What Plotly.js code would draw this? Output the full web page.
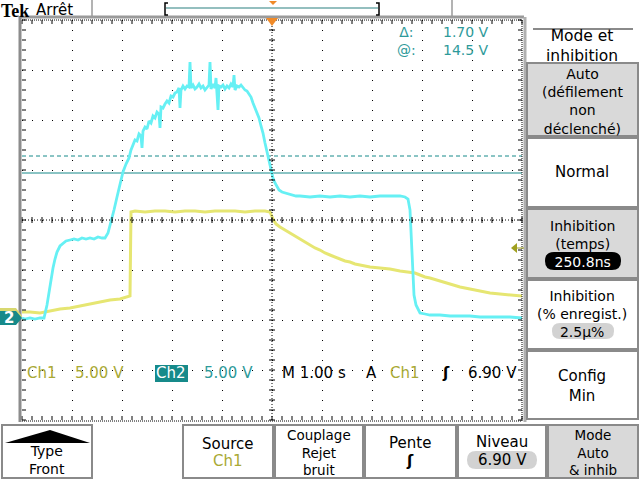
<!DOCTYPE html>
<html><head><meta charset="utf-8">
<script src="https://cdn.plot.ly/plotly-3.0.1.min.js"></script>
<style>html,body{margin:0;padding:0;background:#fff}#chart{width:640px;height:480px}</style>
</head><body><div id="chart"></div>
<script>
// ---------- data (time in s, voltage in V) ----------
const ch1Time = [-5.00,-4.84,-4.64,-4.54,-4.44,-4.34,-4.24,-4.04,-3.84,-3.64,-3.44,-3.24,-3.04,-2.88,-2.84,
  -2.82,-2.74,-2.54,-2.34,-2.14,-1.94,-1.74,-1.54,-1.34,-1.14,-0.94,-0.74,-0.54,-0.34,-0.14,-0.04,
  0.02,0.08,0.16,0.26,0.36,0.46,0.56,0.66,0.76,0.86,0.96,1.06,1.16,1.26,1.36,1.46,1.56,1.66,1.76,1.86,1.96,
  2.16,2.36,2.56,2.76,2.86,2.96,3.06,3.16,3.36,3.56,3.76,3.96,4.16,4.36,4.56,4.76,5.00];
const ch1Volts = [0.5,0.5,0.4,0.5,0.6,0.7,0.8,0.9,1.1,1.3,1.5,1.7,1.8,2.0,2.1,
  10.5,10.6,10.5,10.6,10.6,10.5,10.6,10.6,10.5,10.6,10.6,10.6,10.5,10.6,10.6,10.5,
  9.8,9.3,9.0,8.7,8.4,8.1,7.8,7.5,7.2,6.9,6.7,6.4,6.2,6.0,5.8,5.6,5.5,5.3,5.2,5.1,5.0,
  4.9,4.8,4.6,4.5,4.4,4.2,4.0,3.9,3.6,3.3,3.0,2.8,2.6,2.4,2.3,2.2,2.1];

const ch2Time = [-5.00,-4.94,-4.84,-4.74,-4.64,-4.56,-4.50,-4.46,-4.42,-4.38,-4.34,-4.30,-4.24,-4.18,-4.12,
  -4.04,-3.96,-3.88,-3.80,-3.72,-3.64,-3.56,-3.48,-3.40,-3.34,-3.28,-3.22,-3.16,-3.10,-3.04,-2.98,-2.92,
  -2.86,-2.82,-2.78,-2.74,-2.70,-2.66,-2.62,-2.60,-2.58,-2.54,-2.50,-2.46,-2.42,-2.38,-2.34,-2.30,-2.26,
  -2.24,-2.22,-2.18,-2.14,-2.10,-2.06,-2.02,-1.98,-1.94,-1.90,-1.86,-1.84,-1.82,-1.78,-1.74,-1.70,-1.66,
  -1.64,-1.62,-1.58,-1.54,-1.50,-1.46,-1.42,-1.38,-1.34,-1.30,-1.26,-1.24,-1.22,-1.18,-1.14,-1.12,-1.10,
  -1.08,-1.06,-1.02,-0.98,-0.94,-0.90,-0.86,-0.82,-0.78,-0.76,-0.74,-0.70,-0.66,-0.62,-0.58,-0.54,-0.50,
  -0.46,-0.42,-0.38,-0.34,-0.30,-0.26,-0.22,-0.18,-0.14,-0.10,-0.06,-0.02,0.02,0.06,0.10,0.14,0.20,0.26,
  0.32,0.40,0.48,0.56,0.76,0.96,1.16,1.36,1.56,1.76,1.96,2.16,2.36,2.56,2.66,2.72,2.76,2.78,2.80,2.82,
  2.84,2.88,2.92,2.96,3.06,3.16,3.36,3.56,3.76,3.96,4.16,4.36,4.56,4.76,5.00];
const ch2Volts = [0.0,-0.1,0.0,-0.1,0.0,0.0,1.3,2.6,3.8,5.0,5.9,6.6,7.2,7.5,7.7,
  7.8,7.9,7.8,8.0,7.9,8.0,7.9,8.1,8.0,8.0,8.5,9.6,10.8,12.1,13.5,14.6,15.4,
  16.0,16.8,17.4,17.8,17.7,18.4,18.2,17.0,18.7,19.1,18.9,19.7,19.5,20.2,20.0,20.6,20.4,
  19.0,21.1,21.0,21.4,21.7,21.5,22.2,22.1,22.5,22.6,23.0,21.0,22.8,23.2,22.9,23.2,23.1,
  25.6,23.0,23.3,22.9,23.1,23.4,23.0,23.2,22.8,23.1,23.3,25.6,22.9,23.4,23.0,24.0,22.7,
  20.8,23.2,23.1,23.3,22.9,23.2,23.0,23.4,23.1,24.3,22.8,23.2,23.1,23.3,23.0,22.8,22.7,
  22.4,22.1,21.5,21.0,20.5,20.0,19.2,18.5,17.5,16.6,15.5,14.6,14.0,13.5,13.1,12.8,12.6,12.5,
  12.4,12.3,12.2,12.2,12.1,12.2,12.1,12.2,12.1,12.2,12.1,12.2,12.2,12.2,12.1,11.9,10.8,8.8,6.3,3.8,
  2.3,1.3,0.8,0.5,0.4,0.3,0.3,0.2,0.2,0.2,0.1,0.1,0.1,0.1,0.0];

// ---------- scope settings ----------
const ch1Scale = 5.00, ch2Scale = 5.00, timeScale = 1.00;   // V/div, s/div
const ch1GroundDiv = -1.94, ch2GroundDiv = -1.96;          // ground position (div from centre)
const trigLevel = 6.90;
const cursorAt = 14.5, cursorDelta = 1.70;
const holdoffTime = '250.8ns', holdoffPct = '2.5µ%';

// ---------- colours ----------
const cYellowTrace = '#e6e672', cCyanTrace = '#66f0f4';
const cOlive = '#a9a935', cTeal = '#2e9a9a', cTealDark = '#168a8a';
const cGreyBox = '#d9d9d9', cBorder = '#8a8a8a';
const FONT = 'DejaVu Sans';

// ---------- pixel -> paper helpers (plot area 22..522 x 20..420) ----------
const X = px => (px - 22) / 500;
const Y = py => (420 - py) / 400;

const shapes = [];
const annotations = [];

function rect(x0, y0, x1, y1, fill, line, lw) {
  shapes.push({type:'rect', xref:'paper', yref:'paper', x0:X(x0), x1:X(x1), y0:Y(y0), y1:Y(y1),
    fillcolor: fill, line:{color: line || cBorder, width: lw === undefined ? 2 : lw}, layer:'above'});
}
function seg(x0, y0, x1, y1, color, width, dash) {
  shapes.push({type:'line', xref:'paper', yref:'paper', x0:X(x0), x1:X(x1), y0:Y(y0), y1:Y(y1),
    line:{color: color, width: width, dash: dash || 'solid'}, layer:'above'});
}
function pathShape(path, fill, line, lw) {
  shapes.push({type:'path', xref:'paper', yref:'paper', path: path, fillcolor: fill,
    line:{color: line || fill, width: lw || 0}, layer:'above'});
}
function pill(x0, y0, x1, y1, fill) {
  const r = (y1 - y0) / 2, m = (y0 + y1) / 2;
  const p = `M${X(x0+r)},${Y(y0)} L${X(x1-r)},${Y(y0)} Q${X(x1)},${Y(y0)} ${X(x1)},${Y(m)} Q${X(x1)},${Y(y1)} ${X(x1-r)},${Y(y1)} L${X(x0+r)},${Y(y1)} Q${X(x0)},${Y(y1)} ${X(x0)},${Y(m)} Q${X(x0)},${Y(y0)} ${X(x0+r)},${Y(y0)} Z`;
  pathShape(p, fill, fill, 0);
}
function txt(x, y, text, opt) {
  opt = opt || {};
  if (Array.isArray(text)) text = text.join('<br>');
  annotations.push(Object.assign({xref:'paper', yref:'paper', x:X(x), y:Y(y), text:text, showarrow:false,
    xanchor: opt.xanchor || 'center', yanchor: opt.yanchor || 'middle', align: opt.align || 'center',
    borderpad: 0,
    font:{family: opt.family || FONT, size: opt.size || 15, color: opt.color || '#000', weight: opt.weight || 'normal'}},
    opt.bg ? {bgcolor: opt.bg} : {}));
}

// ---------- graticule ----------
seg(272, 20, 272, 420, '#000', 1, '1px,2px');
seg(22, 220, 522, 220, '#000', 1, '1px,2px');
let tk = '';
const addTick = (x0,y0,x1,y1) => { tk += `M${X(x0)},${Y(y0)}L${X(x1)},${Y(y1)}`; };
for (let px = 22; px <= 522; px += 10) {
  addTick(px, 217, px, 223); addTick(px, 20, px, 24); addTick(px, 416, px, 420);
}
for (let py = 20; py <= 420; py += 10) {
  addTick(269, py, 275, py); addTick(22, py, 26, py); addTick(518, py, 522, py);
}
shapes.push({type:'path', xref:'paper', yref:'paper', path: tk, line:{color:'#000', width:1}, layer:'above'});
seg(22, 421, 522, 421, '#000', 1, '1px,1px');
seg(522, 20, 522, 421, '#000', 1, '1px,1px');
seg(22, 20, 522, 20, '#000', 1, '1px,1px');
seg(20, 17, 524, 17, '#9a9a9a', 3);
seg(20, 16, 20, 422, '#8c8c8c', 3);
seg(525, 17, 525, 422, '#b0b0b0', 3);

// cursors (ch2)
shapes.push({type:'line', xref:'paper', yref:'y2', x0:0, x1:1, y0:cursorAt, y1:cursorAt,
  line:{color:cTealDark, width:1}, layer:'between'});
shapes.push({type:'line', xref:'paper', yref:'y2', x0:0, x1:1, y0:cursorAt+cursorDelta, y1:cursorAt+cursorDelta,
  line:{color:cTealDark, width:1, dash:'4px,3px'}, layer:'between'});

// ground markers
shapes.push({type:'path', xref:'paper', yref:'y', xsizemode:'pixel', ysizemode:'pixel', xanchor:0, yanchor:0,
  path:'M-22,9 L-6,9 L0,1 L-6,-7 L-22,-7 Z', fillcolor:'#d8d870', line:{width:0}, layer:'above'});
shapes.push({type:'path', xref:'paper', yref:'y2', xsizemode:'pixel', ysizemode:'pixel', xanchor:0, yanchor:0,
  path:'M-22,7 L-6,7 L0,0 L-6,-7 L-22,-7 Z', fillcolor:cTealDark, line:{width:0}, layer:'above'});
annotations.push({xref:'paper', yref:'y2', x:X(9), y:0, text:'<b>2</b>', showarrow:false,
  xanchor:'center', yanchor:'middle', borderpad:0, font:{family:FONT, size:15, color:'#fff'}});
// trigger level marker (ch1)
shapes.push({type:'path', xref:'paper', yref:'y', xsizemode:'pixel', ysizemode:'pixel', xanchor:1, yanchor:trigLevel,
  path:'M-11,0 L-5,-5 L-5,5 Z', fillcolor:'#a0a020', line:{width:0}, layer:'above'});
shapes.push({type:'path', xref:'paper', yref:'y', xsizemode:'pixel', ysizemode:'pixel', xanchor:1, yanchor:trigLevel,
  path:'M-5,0 L2,0', line:{color:'#a0a020', width:1}, layer:'above'});
// trigger position markers (orange)
pathShape(`M${X(266)},${Y(18)} L${X(278)},${Y(18)} L${X(272)},${Y(26)} Z`, '#f08a28');
pathShape(`M${X(269)},${Y(1)} L${X(277)},${Y(1)} L${X(273)},${Y(5)} Z`, '#f08a28');

// ---------- top bar ----------
txt(15, 0, 'Tek', {family:'Liberation Serif', size:18, weight:'bold', yanchor:'top'});
txt(54, 0, 'Arrêt', {size:15, yanchor:'top'});
seg(92, 0, 92, 16, '#9a9a9a', 1.5);
seg(452, 0, 452, 16, '#9a9a9a', 1.5);
shapes.push({type:'path', xref:'paper', yref:'paper', path:`M${X(168)},${Y(3)}L${X(165)},${Y(3)}L${X(165)},${Y(15)}L${X(168)},${Y(15)}`, line:{color:'#000', width:1.5}, layer:'above'});
shapes.push({type:'path', xref:'paper', yref:'paper', path:`M${X(376)},${Y(3)}L${X(379)},${Y(3)}L${X(379)},${Y(15)}L${X(376)},${Y(15)}`, line:{color:'#000', width:1.5}, layer:'above'});
seg(166, 8, 378, 8, '#2a8080', 1.2);

// cursor readout
txt(406, 41, ['Δ:', '@:'], {color:cTeal, size:14});
txt(466, 41, [cursorDelta.toFixed(2) + ' V', cursorAt.toFixed(1) + ' V'], {color:cTeal, size:14});

// channel readout
txt(42, 373, 'Ch1', {color:cOlive});
txt(99, 373, ch1Scale.toFixed(2) + ' V', {color:cOlive});
rect(155, 365, 188, 382, cTealDark, cTealDark, 0);
txt(171, 373, 'Ch2', {color:'#fff'});
txt(228, 373, ch2Scale.toFixed(2) + ' V', {color:cTeal});
txt(314, 373, 'M ' + timeScale.toFixed(2) + ' s');
txt(371, 373, 'A');
txt(405, 373, 'Ch1', {color:cOlive});
txt(446, 373, 'ʃ', {weight:'bold'});
txt(492, 373, trigLevel.toFixed(2) + ' V');

// ---------- right menu ----------
seg(533, 29, 633, 29, '#8a8a8a', 2);
txt(582, 46, ['Mode et', 'inhibition'], {size:15.5});
rect(527, 63, 638, 136, cGreyBox);
txt(582, 101, ['Auto', '(défilement', 'non', 'déclenché)'], {size:14});
rect(527, 138, 638, 207, '#fff');
txt(582, 172, 'Normal');
rect(527, 209, 638, 278, cGreyBox);
pill(545, 252, 621, 270, '#000');
txt(582, 244, ['Inhibition', '(temps)', '<span style="color:#fff">' + holdoffTime + '</span>'], {size:14});
rect(527, 280, 638, 349, '#fff');
pill(552, 323, 614, 339, '#d2d2d2');
txt(582, 314, ['Inhibition', '(% enregist.)', holdoffPct], {size:14});
rect(527, 351, 638, 419, '#fff');
txt(582, 386, ['Config', 'Min'], {size:15});

// ---------- bottom menu ----------
rect(2, 425, 92, 478, '#fff');
pathShape(`M${X(5)},${Y(443)} L${X(50)},${Y(430)} L${X(90)},${Y(443)} Z`, '#000');
txt(47, 460, ['Type', 'Front'], {size:14});
rect(183, 425, 273, 478, '#fff');
txt(228, 444, 'Source'); txt(228, 461, 'Ch1', {color:cOlive});
rect(275, 425, 363, 478, '#fff');
txt(319, 452, ['Couplage', 'Rejet', 'bruit'], {size:13.5});
rect(365, 425, 456, 478, '#fff');
txt(410, 443, 'Pente'); txt(410, 461, 'ʃ', {weight:'bold'});
rect(458, 425, 546, 478, '#fff');
txt(502, 442, 'Niveau');
pill(467, 451, 537, 469, '#d2d2d2');
txt(502, 460, trigLevel.toFixed(2) + ' V');
rect(548, 425, 638, 478, cGreyBox);
txt(593, 452, ['Mode', 'Auto', '&amp; inhib'], {size:13.5});

// ---------- traces ----------
const traces = [
  {x: ch1Time, y: ch1Volts, type:'scatter', mode:'lines', name:'Ch1', yaxis:'y',
   line:{color:cYellowTrace, width:3}},
  {x: ch2Time, y: ch2Volts, type:'scatter', mode:'lines', name:'Ch2', yaxis:'y2',
   line:{color:cCyanTrace, width:2.8}}
];

const ch1Range = [(-4 - ch1GroundDiv) * ch1Scale, (4 - ch1GroundDiv) * ch1Scale];
const ch2Range = [(-4 - ch2GroundDiv) * ch2Scale, (4 - ch2GroundDiv) * ch2Scale];

const layout = {
  width: 640, height: 480,
  margin: {l:22, r:118, t:20, b:60, pad:0},
  paper_bgcolor:'#fff', plot_bgcolor:'#fff',
  showlegend:false,
  xaxis: {range:[-5*timeScale, 5*timeScale], tick0:-5, dtick:timeScale, showgrid:true,
    gridcolor:'#000', gridwidth:1, griddash:'1px,9px', zeroline:false, showticklabels:false,
    ticks:'', showline:false, fixedrange:true},
  yaxis: {range: ch1Range, tick0: ch1Range[0], dtick: ch1Scale, showgrid:true,
    gridcolor:'#000', gridwidth:1, griddash:'1px,9px', zeroline:false, showticklabels:false,
    ticks:'', showline:false, fixedrange:true},
  yaxis2: {range: ch2Range, overlaying:'y', side:'left', showgrid:false, zeroline:false,
    showticklabels:false, ticks:'', showline:false, fixedrange:true},
  shapes: shapes,
  annotations: annotations
};

Plotly.newPlot('chart', traces, layout, {staticPlot:true, displayModeBar:false});
</script>
</body></html>
